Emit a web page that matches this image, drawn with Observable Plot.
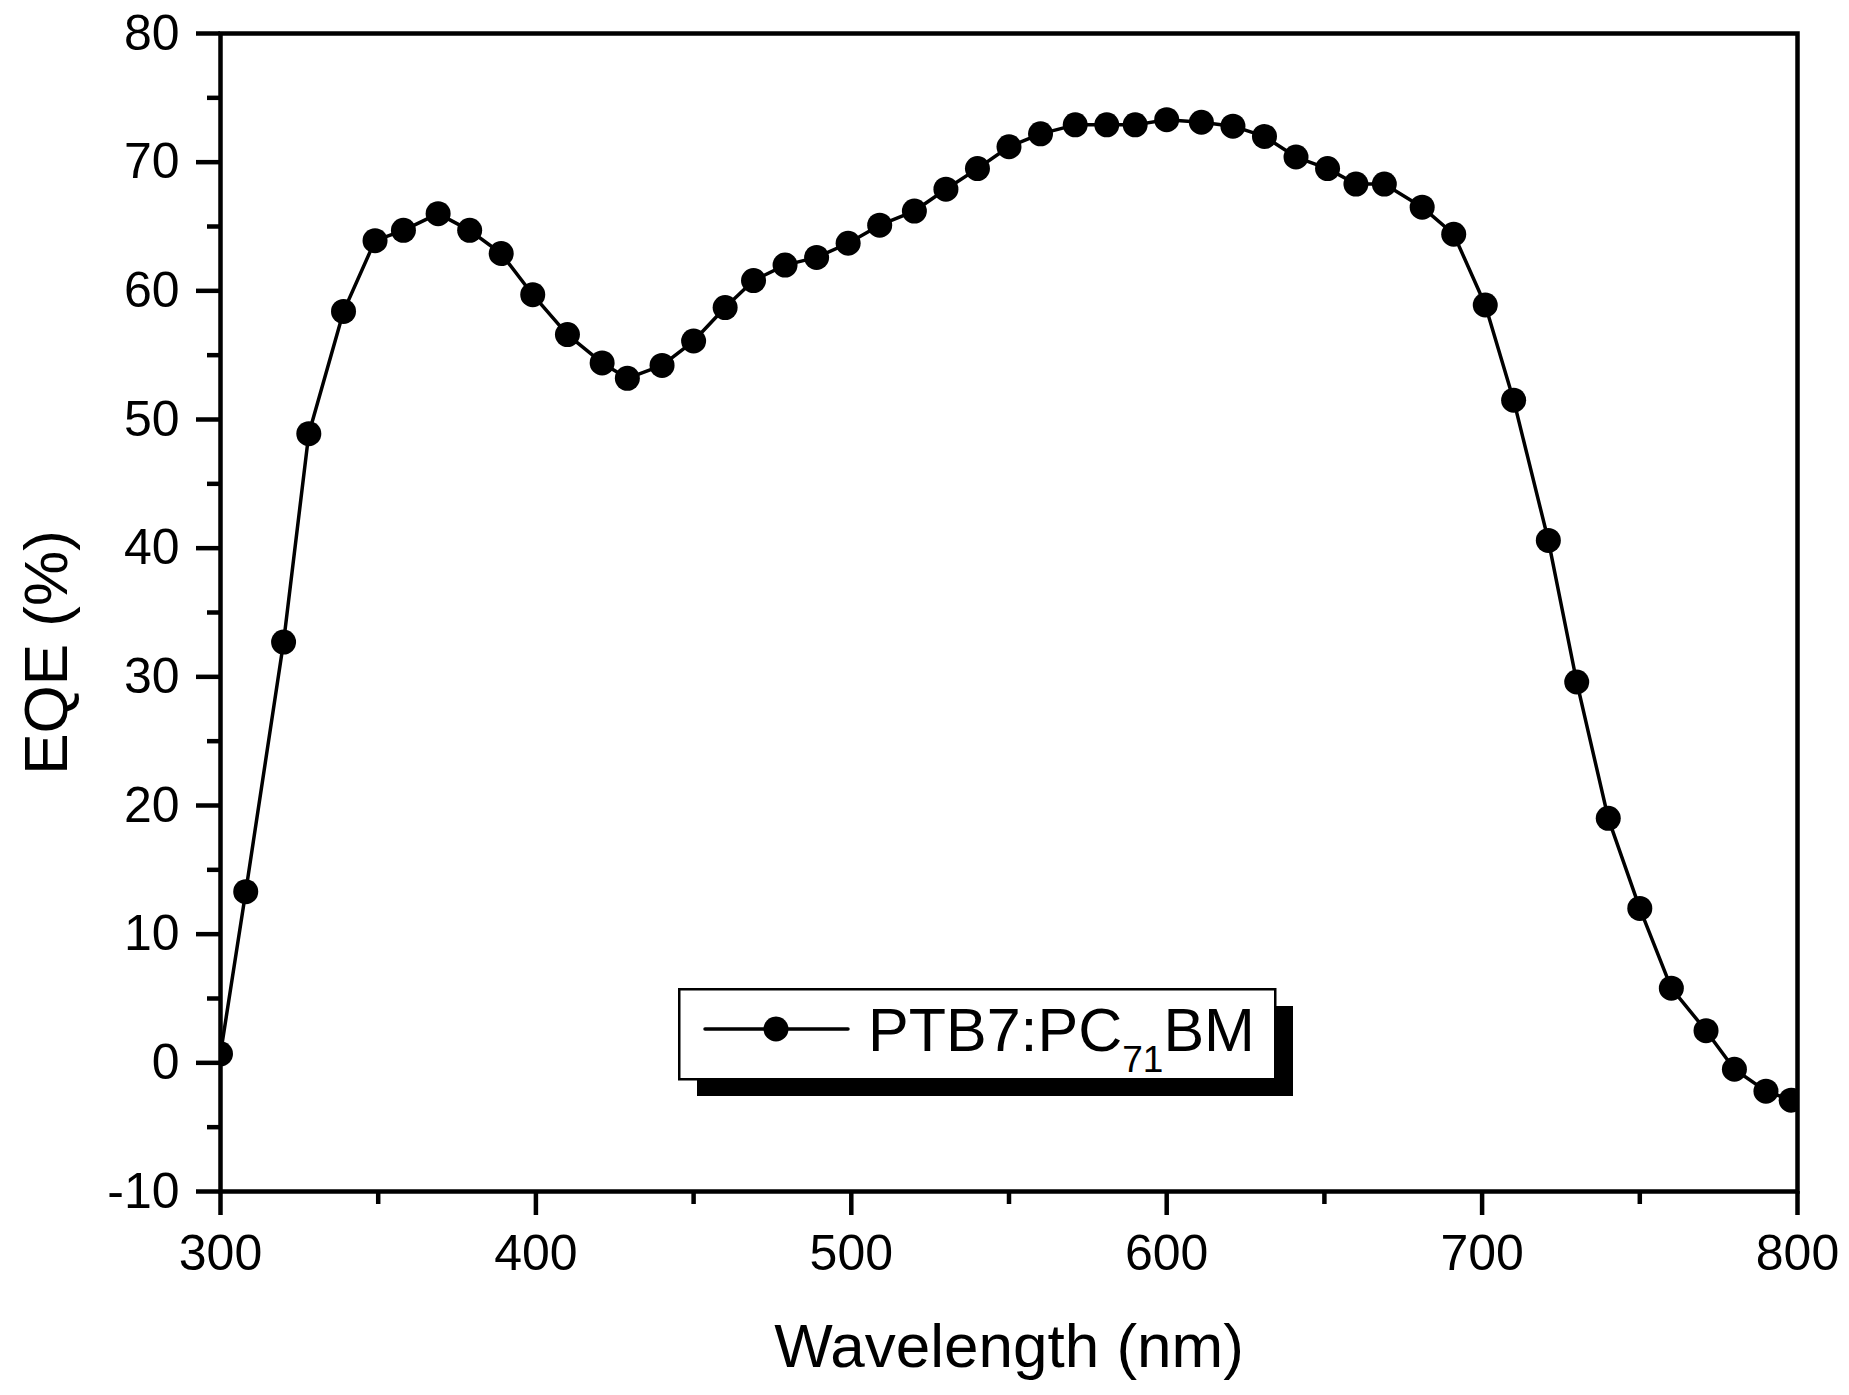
<!DOCTYPE html>
<html>
<head>
<meta charset="utf-8">
<script src="https://cdn.jsdelivr.net/npm/d3@7"></script>
<script src="https://cdn.jsdelivr.net/npm/@observablehq/plot@0.6"></script>
<style>
  html, body { margin: 0; padding: 0; background: white; }
  #wrap { position: relative; width: 1849px; height: 1395px; font-family: "Liberation Sans", Arial, sans-serif; }
  #legend { position: absolute; left: 678px; top: 988px; }
</style>
</head>
<body>
<div id="wrap"></div>
<script>
const wavelength = [300, 308, 320, 328, 339, 349, 358, 369, 379, 389, 399, 410, 421, 429, 440, 450, 460, 469, 479, 489, 499, 509, 520, 530, 540, 550, 560, 571, 581, 590, 600, 611, 621, 631, 641, 651, 660, 669, 681, 691, 701, 710, 721, 730, 740, 750, 760, 771, 780, 790, 798];
const eqe = [0.7, 13.3, 32.7, 48.9, 58.4, 63.9, 64.7, 66.0, 64.7, 62.9, 59.7, 56.6, 54.4, 53.2, 54.2, 56.1, 58.7, 60.8, 62.0, 62.6, 63.7, 65.1, 66.2, 67.9, 69.5, 71.2, 72.2, 72.9, 72.9, 72.9, 73.3, 73.1, 72.8, 72.0, 70.4, 69.5, 68.3, 68.3, 66.5, 64.4, 58.9, 51.5, 40.6, 29.6, 19.0, 12.0, 5.8, 2.5, -0.5, -2.2, -2.9];
const xTicks = [300, 400, 500, 600, 700, 800];
const xMinorTicks = [350, 450, 550, 650, 750];
const yTicks = [-10, 0, 10, 20, 30, 40, 50, 60, 70, 80];
const yMinorTicks = [-5, 5, 15, 25, 35, 45, 55, 65, 75];
const xLabel = "Wavelength (nm)";
const yLabel = "EQE (%)";
const seriesName = ["PTB7:PC", "71", "BM"];

const data = wavelength.map((w, i) => ({w, v: eqe[i]}));

const chart = Plot.plot({
  width: 1849,
  height: 1395,
  marginLeft: 220,
  marginRight: 52,
  marginTop: 33,
  marginBottom: 204,
  style: {fontFamily: "'Liberation Sans', Arial, sans-serif", background: "white", color: "black", overflow: "visible"},
  x: {domain: [300, 800]},
  y: {domain: [-10, 80]},
  marks: [
    Plot.axisX({ticks: xTicks, tickSize: 24, tickPadding: 19, fontSize: 50, strokeWidth: 4.5, label: null, tickFormat: d => String(d)}),
    Plot.axisX({ticks: xMinorTicks, tickSize: 13, text: null, strokeWidth: 4.5, label: null}),
    Plot.axisY({ticks: yTicks, tickSize: 24, tickPadding: 17, fontSize: 50, strokeWidth: 4.5, label: null, tickFormat: d => String(d)}),
    Plot.axisY({ticks: yMinorTicks, tickSize: 13, text: null, strokeWidth: 4.5, label: null}),
    Plot.line(data, {x: "w", y: "v", stroke: "black", strokeWidth: 3.5, clip: true}),
    Plot.dot(data, {x: "w", y: "v", r: 12.5, fill: "black", stroke: "none", clip: true}),
    Plot.frame({stroke: "black", strokeWidth: 4.5}),
    Plot.text([xLabel], {frameAnchor: "bottom", textAnchor: "middle", lineAnchor: "middle", dy: 156, fontSize: 62, fill: "black"}),
    Plot.text([yLabel], {frameAnchor: "left", textAnchor: "middle", lineAnchor: "middle", dx: -173, dy: 40, rotate: -90, fontSize: 62, fill: "black"})
  ]
});

const wrap = document.getElementById("wrap");
wrap.appendChild(chart);

const ns = "http://www.w3.org/2000/svg";
const leg = document.createElementNS(ns, "svg");
leg.setAttribute("id", "legend");
leg.setAttribute("width", "620");
leg.setAttribute("height", "115");
leg.innerHTML = `
  <rect x="19" y="18" width="596" height="90" fill="black"/>
  <rect x="1.25" y="1.25" width="596" height="90" fill="white" stroke="black" stroke-width="2.5"/>
  <line x1="27" y1="41" x2="170" y2="41" stroke="black" stroke-width="3.5" stroke-linecap="round"/>
  <circle cx="98" cy="41" r="12.5" fill="black"/>
  <text x="190" y="63" font-family="'Liberation Sans', Arial, sans-serif" font-size="61" fill="black">${seriesName[0]}<tspan font-size="37" dy="21">${seriesName[1]}</tspan><tspan font-size="61" dy="-21">${seriesName[2]}</tspan></text>`;
wrap.appendChild(leg);
</script>
</body>
</html>
